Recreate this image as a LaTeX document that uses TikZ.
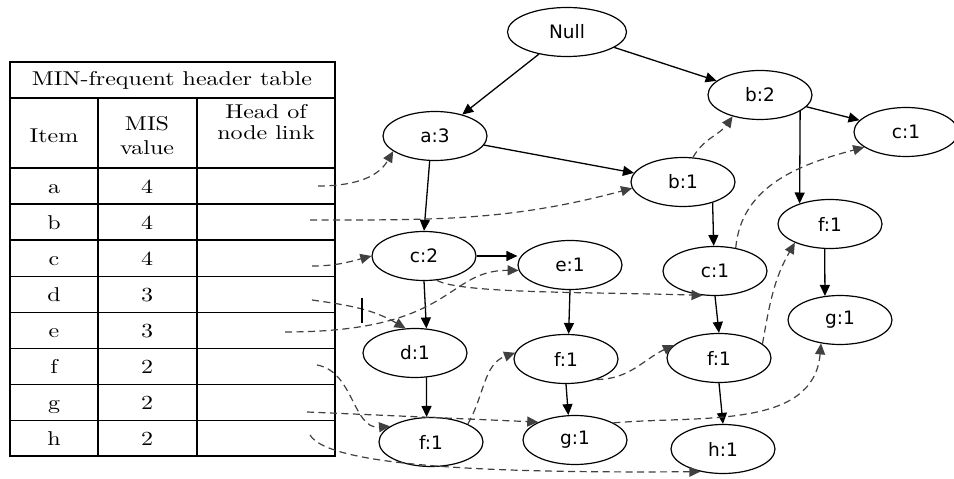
\documentclass[tikz,border=0pt]{standalone}
\usepackage{fontspec}
\newfontfamily\nodefont{DejaVu Sans}
\newfontfamily\tabfont{lmroman10-regular.otf}[FakeStretch=1.2]
\usetikzlibrary{shapes.geometric,arrows.meta}

\tikzset{
  fpnode/.style={ellipse, draw, line width=1.2pt, minimum width=104pt, minimum height=49pt,
    inner sep=0pt, font=\nodefont\fontsize{18.5}{22}\selectfont},
  treeedge/.style={-{Triangle[length=11pt,width=10pt]}, line width=1.3pt},
  nodelink/.style={-{Triangle[length=11pt,width=10pt]}, line width=1.2pt,
    dash pattern=on 7pt off 4.5pt, black!75},
  tabtext/.style={font=\tabfont\fontsize{20}{24}\selectfont, inner sep=0pt},
  tabline/.style={line width=1.5pt}
}

\begin{document}
\begin{tikzpicture}[x=1pt,y=1pt]
\useasboundingbox (0,0) rectangle (954,479);

% header table
\draw[tabline] (10,23) rectangle (335,417);
\draw[tabline] (10,381) -- (335,381);
\draw[tabline] (98,381) -- (98,23);
\draw[tabline] (197,381) -- (197,23);
\node[tabtext] (title) at (172,399) {MIN-frequent header table};
\node[tabtext] (item) at (54,343) {Item};
\node[tabtext, align=center, font=\tabfont\fontsize{20}{24}\selectfont] (mis) at (147,343) {MIS\\value};
\node[tabtext, align=center, font=\tabfont\fontsize{20}{21}\selectfont] (head) at (266,357) {Head of\\node link};
\foreach \itm/\mis [count=\i] in {a/4,b/4,c/4,d/3,e/3,f/2,g/2,h/2} {
  \pgfmathsetmacro\yc{311-36.1*\i+18.05}
  \draw[tabline] (10,\yc+18.05) -- (335,\yc+18.05);
  \node[tabtext, anchor=base] (item\itm) at (54,\yc-7) {\itm};
  \node[tabtext, anchor=base] (mis\itm) at (147,\yc-7) {\mis};
}

% heads of the node links
\coordinate (ha) at (318,293);
\coordinate (hb) at (310,259);
\coordinate (hc) at (312,213);
\coordinate (hd) at (312,179);
\coordinate (he) at (285,147);
\coordinate (hf) at (317,114);
\coordinate (hg) at (307,67);
\coordinate (hh) at (310,44);

% tree
\begin{scope}[every node/.style=fpnode]
  \node[minimum width=119pt] (null) at (567,447) {Null};
  \node (a3) at (435,343) {a:3};
  \node (b2) at (760,384) {b:2};
  \node (c1r) at (906,347) {c:1};
  \node (b1) at (683,297) {b:1};
  \node (f1r) at (830,255) {f:1};
  \node (g1r) at (840,159) {g:1};
  \node (c2) at (424,223) {c:2};
  \node (e1) at (570,214) {e:1};
  \node (c1m) at (715,208) {c:1};
  \node (d1) at (415,126) {d:1};
  \node (f1m) at (566,120) {f:1};
  \node (f1mr) at (719,121) {f:1};
  \node (f1b) at (431,37) {f:1};
  \node (g1b) at (575,39) {g:1};
  \node (h1) at (723,30) {h:1};
\end{scope}

\path[treeedge] (null) edge (a3);
\path[treeedge] (null) edge (b2);
\path[treeedge] (a3) edge (b1);
\path[treeedge] (a3.-102) edge (c2.north);
\path[treeedge] (b2) edge (c1r);
\path[treeedge] (b2.-22) edge (f1r.146);
\path[treeedge] (b1.-35) edge (c1m.93);
\path[treeedge] (c2.east) edge (e1.west |- c2.east);
\path[treeedge] (c2.south) edge (d1.65);
\path[treeedge] (e1.south) edge (f1m.84);
\path[treeedge] (d1.-65) edge (f1b.100);
\path[treeedge] (f1m.south) edge (g1b.105);
\path[treeedge] (c1m.south) edge (f1mr.north);
\path[treeedge] (f1mr.south) edge (h1.north);
\path[treeedge] (f1r.-102) edge (g1r.122);

% node links
\draw[nodelink] (ha) to[out=0,in=240] (a3.200);
\draw[nodelink] (hb) to[out=0,in=195] (b1.187);
\draw[nodelink] (hc) to[out=0,in=195] (c2.west);
\draw[nodelink] (hd) to[out=-8,in=150] (d1.111);
\draw[line width=1.2pt] (362,181) -- (362,156);
\draw[nodelink] (he) .. controls (455,147) and (445,209) .. (e1.186);
\draw[nodelink] (hf) to[out=-10,in=185] (f1b.159);
\draw[nodelink] (hg) -- (g1b.154);
\draw[nodelink] (hh) .. controls (330,10) and (520,6) .. (h1.225);
\draw[nodelink] (b1.68) to[out=60,in=235] (b2.218);
\draw[nodelink] (c2.-62) .. controls (460,185) and (600,187) .. (c1m.243);
\draw[nodelink] (c1m.48) to[out=85,in=195] (c1r.200);
\draw[nodelink] (f1b.26) to[out=60,in=200] (f1m.173);
\draw[nodelink] (f1m.-34) to[out=0,in=205] (f1mr.164);
\draw[nodelink] (f1mr.18) to[out=80,in=240] (f1r.208);
\draw[nodelink] (g1b.24) to[out=5,in=265] (g1r.231);
\end{tikzpicture}
\end{document}
